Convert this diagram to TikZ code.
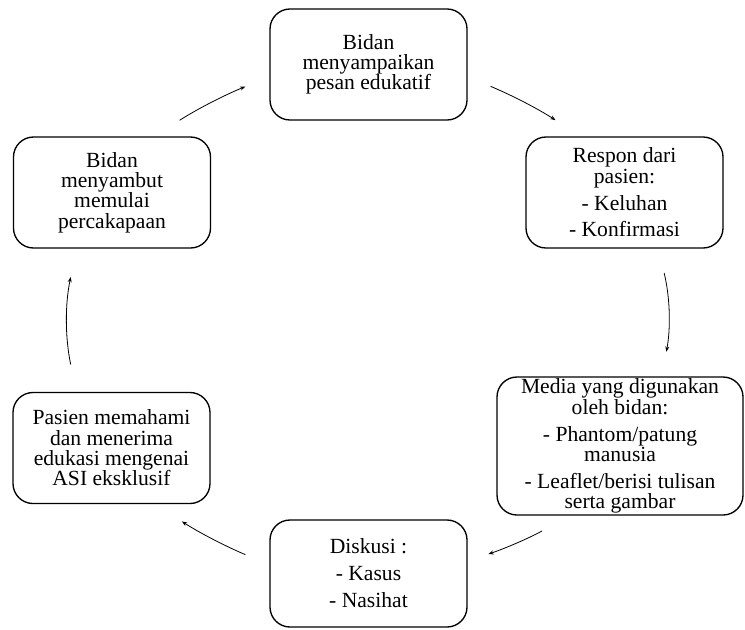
\documentclass[tikz,border=0pt]{standalone}
\usepackage{fontspec}
\setmainfont{Liberation Serif}
\usepackage{tikz}
\usetikzlibrary{arrows.meta}

\begin{document}
\begin{tikzpicture}[x=0.75pt,y=0.75pt,yscale=-1,xscale=1,
  stepbox/.style={draw, line width=1pt, rounded corners=15pt, minimum width=147.75pt, minimum height=83.25pt, inner sep=0pt, align=center, font=\fontsize{16.2}{15.2}\selectfont},
  flow/.style={line width=0.6pt, -{Stealth[length=4pt,width=3pt]}}]
%set diagram size 745 x 629
\useasboundingbox (0,0) rectangle (745,629);

% Text Node
\node [stepbox] (top) at (368.5,64.5) {Bidan\\menyampaikan\\pesan edukatif};
% Text Node
\node [stepbox] (respon) at (624.5,192.5) {Respon dari\\pasien:\\[5pt]- Keluhan\\[5pt]- Konfirmasi};
% Text Node
\node [stepbox, minimum width=184.5pt, minimum height=103.5pt] (media) at (620,446) {Media yang digunakan\\oleh bidan:\\[5pt]- Phantom/patung\\manusia\\[5pt]- Leaflet/berisi tulisan\\serta gambar};
% Text Node
\node [stepbox, minimum height=80.25pt] (diskusi) at (368.5,573.5) {Diskusi :\\[5pt]- Kasus\\[5pt]- Nasihat};
% Text Node
\node [stepbox] (pasien) at (111.5,448) {Pasien memahami\\dan menerima\\edukasi mengenai\\ASI eksklusif};
% Text Node
\node [stepbox] (bidan) at (112,192.5) {Bidan\\menyambut\\memulai\\percakapaan};

%Curve Lines
\draw [flow, shorten <=22.5pt, shorten >=19.5pt] (bidan.53) to [bend right=5] (top.187);
\draw [flow, shorten <=18.7pt, shorten >=22.4pt] (top.353) to [bend right=5] (respon.128);
\draw [flow, shorten <=18.75pt, shorten >=18.75pt] (respon.301) to [bend right=12] (media.59);
\draw [flow, shorten <=23.5pt, shorten >=16.4pt] (media.234) to [bend right=5] (diskusi.7);
\draw [flow, shorten <=19.5pt, shorten >=23.7pt] (diskusi.175) to [bend right=5] (pasien.308);
\draw [flow, shorten <=21pt, shorten >=21.75pt] (pasien.122) to [bend right=12] (bidan.238);

\end{tikzpicture}
\end{document}
